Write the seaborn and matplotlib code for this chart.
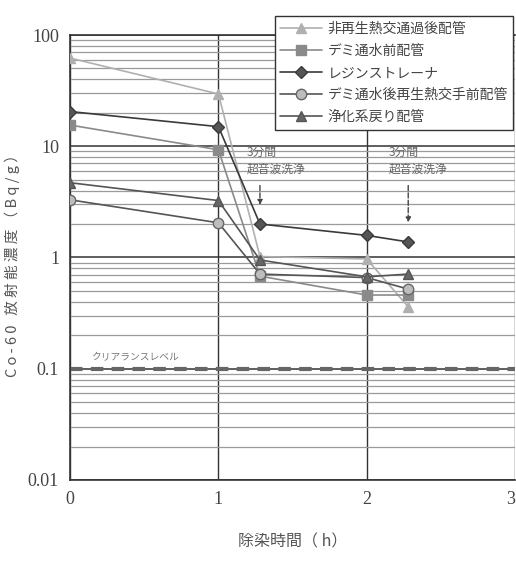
import numpy as np
import pandas as pd
import matplotlib
matplotlib.use("Agg")
import matplotlib.pyplot as plt
from matplotlib.ticker import LogLocator, FixedLocator, NullFormatter
import seaborn as sns

# Decontamination time (h); the 3rd and 5th points follow a 3-minute ultrasonic wash
times = [0, 1, 1.28, 2, 2.28]

series_names = [
    "非再生熱交通過後配管",
    "デミ通水前配管",
    "レジンストレーナ",
    "デミ通水後再生熱交手前配管",
    "浄化系戻り配管",
]
# Co-60 activity concentration (Bq/g)
vals_hx_outlet = [62, 29.5, 1.02, 0.97, 0.36]
vals_demi_inlet = [15.5, 9.3, 0.68, 0.46, 0.46]
vals_resin_strainer = [20.5, 15.0, 2.0, 1.58, 1.38]
vals_demi_outlet = [3.3, 2.05, 0.71, 0.66, 0.52]
vals_cleanup_return = [4.7, 3.25, 0.95, 0.67, 0.71]

clearance_level = 0.1
x_ticks = [0, 1, 2, 3]
y_ticks = [0.01, 0.1, 1, 10, 100]
y_tick_labels = ["0.01", "0.1", "1", "10", "100"]

all_vals = [vals_hx_outlet, vals_demi_inlet, vals_resin_strainer,
            vals_demi_outlet, vals_cleanup_return]
df = pd.DataFrame({
    "time": np.tile(times, len(series_names)),
    "conc": np.concatenate(all_vals),
    "series": np.repeat(series_names, len(times)),
})

styles = {
    series_names[0]: dict(color="#b0b0b0", marker="^", mfc="#b0b0b0", mec="#b0b0b0", ms=7),
    series_names[1]: dict(color="#8a8a8a", marker="s", mfc="#8a8a8a", mec="#8a8a8a", ms=6.5),
    series_names[2]: dict(color="#3a3a3a", marker="D", mfc="#555555", mec="#3a3a3a", ms=6.5),
    series_names[3]: dict(color="#555555", marker="o", mfc="#bdbdbd", mec="#666666", ms=7.5),
    series_names[4]: dict(color="#555555", marker="^", mfc="#666666", mec="#555555", ms=7),
}

sns.set_theme(style="white")
jp = ["Noto Sans CJK JP", "DejaVu Sans"]
num_font = ["Liberation Serif", "DejaVu Serif"]

fig = plt.figure(figsize=(5.16, 5.61), dpi=100)
ax = fig.add_axes([0.136, 0.1444, 0.862, 0.7932])

for name in series_names:
    st = styles[name]
    sub = df[df["series"] == name]
    sns.lineplot(data=sub, x="time", y="conc", ax=ax, label=name,
                 color=st["color"], marker=st["marker"], markersize=st["ms"],
                 markerfacecolor=st["mfc"], markeredgecolor=st["mec"],
                 markeredgewidth=1.0, linewidth=1.2, zorder=3)

ax.set_yscale("log")
ax.set_xlim(0, 3)
ax.set_ylim(0.01, 100)

# grid: light lines at every minor decade step, darker at decades and whole hours
ax.yaxis.set_major_locator(FixedLocator(y_ticks))
ax.yaxis.set_minor_locator(LogLocator(base=10, subs=np.arange(2, 10), numticks=20))
ax.yaxis.set_minor_formatter(NullFormatter())
ax.set_yticks(y_ticks)
ax.set_yticklabels(y_tick_labels, fontfamily=num_font, fontsize=13)
ax.set_xticks(x_ticks)
ax.set_xticklabels([str(t) for t in x_ticks], fontfamily=num_font, fontsize=13)
ax.get_xticklabels()[-1].set_horizontalalignment("right")
ax.grid(True, which="minor", axis="y", color="#9a9a9a", linewidth=0.9)
ax.grid(True, which="major", axis="y", color="#333333", linewidth=1.1)
ax.grid(True, which="major", axis="x", color="#333333", linewidth=1.0)
ax.tick_params(axis="both", which="both", length=0, pad=8, colors="#444444")
for side in ["left", "bottom", "top"]:
    ax.spines[side].set_color("#333333")
    ax.spines[side].set_linewidth(1.2)
ax.spines["right"].set_visible(False)

# clearance level
ax.axhline(clearance_level, color="#666666", linestyle=(0, (3, 2)), linewidth=3.0, zorder=2)
ax.text(0.14, 0.128, "クリアランスレベル", fontfamily=jp, fontsize=7, color="#777777",
        ha="left", va="center")

# ultrasonic wash annotations
for xa, x_txt, y_tip in [(1.28, 1.19, 2.8), (2.28, 2.15, 1.95)]:
    ax.annotate("", xy=(xa, y_tip), xytext=(xa, 4.7),
                arrowprops=dict(arrowstyle="-|>", color="#444444", linestyle="--",
                                linewidth=1.0, mutation_scale=7), zorder=4)
    ax.text(x_txt, 7.4, "3分間\n超音波洗浄", fontfamily=jp, fontsize=8.5,
            color="#666666", ha="left", va="center", linespacing=1.3)

ax.set_xlabel("除染時間（ h）", fontfamily=jp, fontsize=11.5, color="#555555", labelpad=18)
ax.set_ylabel("C o - 6 0   放 射 能 濃 度 （ B q / g ）", fontfamily=jp, fontsize=10.5,
              color="#555555")
ax.yaxis.set_label_coords(-0.112, 0.49)

leg = ax.legend(loc="upper left", prop={"family": jp, "size": 10}, frameon=True,
                fancybox=False, edgecolor="#333333", framealpha=1.0, handlelength=3.0,
                borderpad=0.4, labelspacing=0.58, handletextpad=0.4)
leg.get_frame().set_linewidth(1.0)
leg.set_bbox_to_anchor((0.519, 0.983), transform=fig.transFigure)
for t in leg.get_texts():
    t.set_color("#444444")

fig.savefig("out.png", dpi=100, facecolor="white")
